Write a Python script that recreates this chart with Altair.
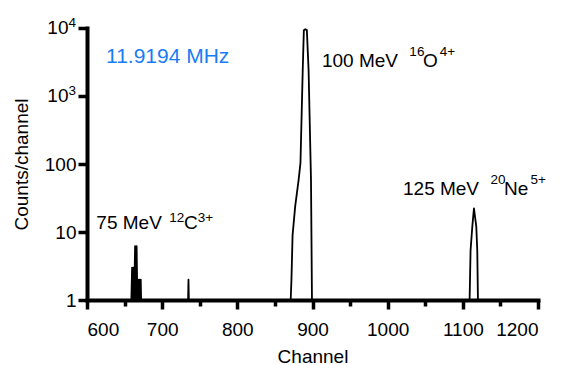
import altair as alt
import pandas as pd

# Spectrum vertices (channel, counts/channel)
c_channel = [600, 659, 660, 661, 662, 663, 663.5, 664, 665, 666, 667, 668, 669, 670, 671, 671.5, 672]
c_counts  = [1,   1,   3,   1,   3,   1,   3,     6.2, 1,   6.2, 1,   2,   1,   2,   1,   2,     1]

s_channel = [734.5, 735, 735.5]
s_counts  = [1,     2,   1]

o_channel = [871, 872, 873.5, 877, 881.5, 884, 887, 888.5, 890.4, 892.5, 894.8, 898, 898.4, 899.3]
o_counts  = [1,   2,   9,     24,  58,    104, 2400, 9300, 9600, 9300,  2400,  58,  16.8,  1]

ne_channel = [1109, 1110.3, 1112.6, 1114.8, 1117.9, 1119.2, 1120.1, 1200]
ne_counts  = [1,    5.4,    12,     22.3,   12,     5.4,    1,      1]

x_major = [600, 700, 800, 900, 1000, 1100, 1200]
x_minor = [650, 750, 850, 950, 1050, 1150]
y_ticks = [1, 10, 100, 1000, 10000]
y_tick_labels = ["1", "10", "100", "", ""]
y_pow_values = [1000, 10000]
y_pow_base = ["10", "10"]
y_pow_exp = ["3", "4"]

ann_main = ["75 MeV", "100 MeV", "125 MeV"]
ann_mass = ["12", "16", "20"]
ann_elem = ["C", "O", "Ne"]
ann_charge = ["3+", "4+", "5+"]
ann_x = [612.4, 912.6, 1020.4]
ann_y = [10.96, 2643, 35]
# pixel offsets of the pieces from the label anchor
mass_dx = [73.0, 87.4, 87.4]
elem_dx = [87.7, 101.1, 101.1]
charge_dx = [101.5, 117.8, 127.4]
sup_raise = [7, 11, 11]

freq_text = ["11.9194 MHz"]
freq_x = [625.3]
freq_y = [3027]

FONT = "Liberation Sans"
MAIN = 19
SUP = 13.5

channel = c_channel + s_channel + o_channel + ne_channel
counts = c_counts + s_counts + o_counts + ne_counts
spec = pd.DataFrame({"ch": channel, "ct": counts, "i": list(range(len(channel)))})

label_expr = "datum.label"
for v, lab in zip(y_ticks, y_tick_labels):
    label_expr = f"datum.value == {v} ? '{lab}' : (" + label_expr + ")"

minor_test = " || ".join(f"datum.value == {v}" for v in x_minor)
x_label_expr = f"({minor_test}) ? '' : datum.label"

xscale = alt.Scale(domain=[600, 1200], nice=False, zero=False)
yscale = alt.Scale(type="log", domain=[1, 10000], nice=False)

line = alt.Chart(spec).mark_line(color="black", strokeWidth=1.8, strokeJoin="round").encode(
    x=alt.X("ch:Q", scale=xscale,
            axis=alt.Axis(values=sorted(x_major + x_minor), title="Channel", orient="bottom",
                          format="d", labelExpr=x_label_expr,
                          tickSize={"condition": {"test": minor_test, "value": 6}, "value": 9},
                          tickWidth=3.5, domainWidth=4,
                          labelBaseline="alphabetic", labelPadding=26,
                          titleY=62, titleBaseline="alphabetic")),
    y=alt.Y("ct:Q", scale=yscale,
            axis=alt.Axis(values=y_ticks, title="Counts/channel", labelExpr=label_expr,
                          orient="left",
                          tickSize=9, tickWidth=3.5, domainWidth=4, labelPadding=2,
                          titleX=-60, titleBaseline="alphabetic")),
    order="i:Q",
)


def txt(df, size, color="black", align="left", baseline="alphabetic", dx=0, dy=0):
    return alt.Chart(df).mark_text(
        align=align, baseline=baseline, fontSize=size, font=FONT, color=color, dx=dx, dy=dy
    ).encode(
        x=alt.X("x:Q", scale=xscale, axis=None),
        y=alt.Y("y:Q", scale=yscale, axis=None),
        text="t:N",
    )


layers = [line]
for i in range(len(ann_main)):
    row = lambda t: pd.DataFrame({"t": [t], "x": [ann_x[i]], "y": [ann_y[i]]})
    layers.append(txt(row(ann_main[i]), MAIN))
    layers.append(txt(row(ann_mass[i]), SUP, dx=mass_dx[i], dy=-sup_raise[i]))
    layers.append(txt(row(ann_elem[i]), MAIN, dx=elem_dx[i]))
    layers.append(txt(row(ann_charge[i]), SUP, dx=charge_dx[i], dy=-sup_raise[i]))

pow_df = pd.DataFrame({"t": y_pow_base, "x": [600] * len(y_pow_values), "y": y_pow_values})
exp_df = pd.DataFrame({"t": y_pow_exp, "x": [600] * len(y_pow_values), "y": y_pow_values})
layers.append(txt(pow_df, MAIN, align="right", baseline="middle", dx=-18.5))
layers.append(txt(exp_df, SUP, align="left", baseline="alphabetic", dx=-18.5, dy=-1))

freq_df = pd.DataFrame({"t": freq_text, "x": freq_x, "y": freq_y})
layers.append(txt(freq_df, 21, color="#1a7cf5"))

chart = alt.layer(*layers).resolve_axis(x="independent", y="independent").properties(
    width=451, height=272,
    padding={"left": 87, "top": 28, "right": 24, "bottom": 65},
    autosize=alt.AutoSizeParams(type="none"),
).configure_view(stroke=None).configure_axis(
    grid=False, domainColor="black", tickColor="black",
    labelFont=FONT, titleFont=FONT, labelFontSize=MAIN, titleFontSize=19,
    labelColor="black", titleColor="black", titleFontWeight="normal",
    domainCap="square",
)

chart.save("out.html", embed_options={"renderer": "svg", "actions": False})
